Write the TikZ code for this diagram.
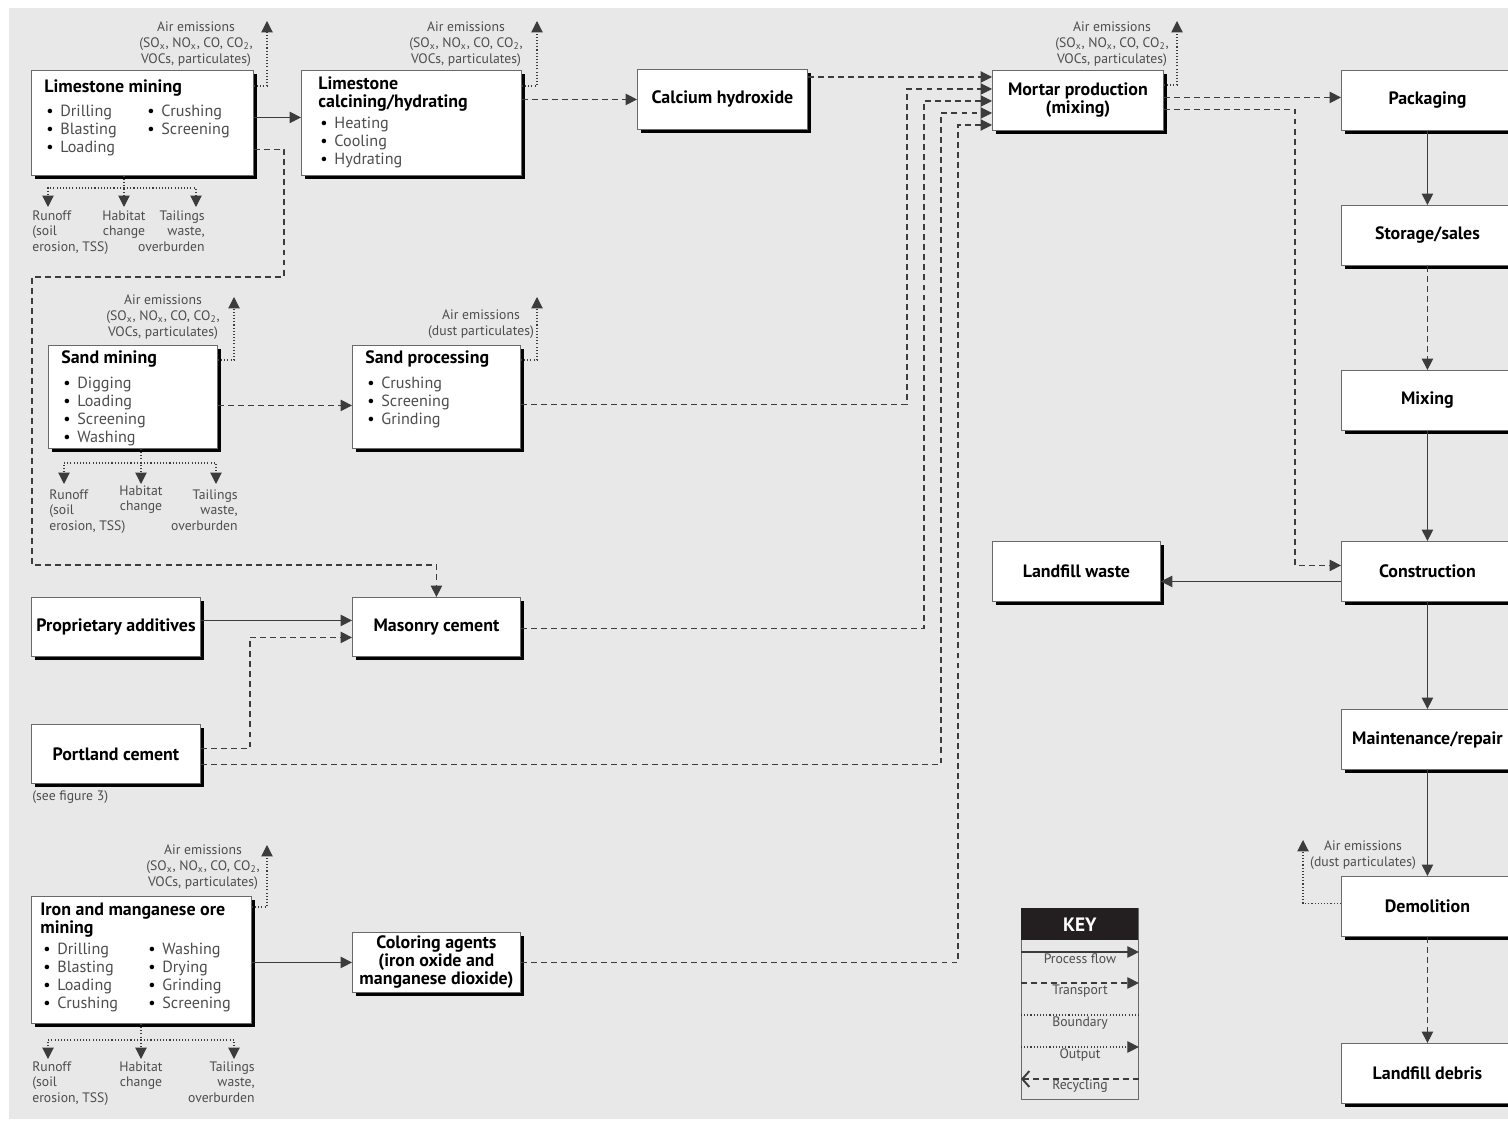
\documentclass[tikz,border=0pt]{standalone}
\usepackage{fontspec}
\setmainfont{PT Sans}
\usepackage{tikz}
\usetikzlibrary{arrows.meta,calc,shadows}

\definecolor{bggray}{HTML}{E8E8E8}
\definecolor{boxline}{HTML}{6A6A6A}
\definecolor{txtgray}{HTML}{4D4D4D}
\definecolor{linegray}{HTML}{3C3C3C}
\definecolor{keydark}{HTML}{231F20}

\newcommand{\itm}[1]{\makebox[8pt][l]{\textcolor{black}{\textbullet}}#1}
\newcommand{\airtxt}{Air emissions\\(SO\textsubscript{x}, NO\textsubscript{x}, CO, CO\textsubscript{2},\\VOCs, particulates)}

\begin{document}
\begin{tikzpicture}[x=0.02cm, y=-0.02cm,
  box/.style={draw=boxline, line width=0.5pt, fill=white, inner sep=0pt, anchor=north west,
    drop shadow={shadow xshift=2.3pt, shadow yshift=-2.3pt, fill=black, opacity=1}},
  wh/.style 2 args={minimum width=#1*0.02cm, minimum height=#2*0.02cm},
  lbl/.style={font=\bfseries\fontsize{10.2}{10.2}\selectfont, align=center},
  ttl/.style={font=\bfseries\fontsize{10.2}{10.2}\selectfont, align=left, inner sep=0pt},
  item/.style={font=\fontsize{9.2}{10.2}\selectfont, text=txtgray, anchor=base west, inner sep=0pt},
  note/.style={font=\fontsize{7.8}{9}\selectfont, text=txtgray, inner sep=0pt},
  arr/.style={-{Triangle[length=6.5pt, width=6.5pt]}},
  flow/.style={arr, draw=linegray, line width=0.6pt},
  trans/.style={arr, draw=linegray, line width=0.6pt, dash pattern=on 3.4pt off 2.3pt},
  outp/.style={arr, draw=linegray, line width=0.6pt, dash pattern=on 0.6pt off 1.2pt},
  bound/.style={draw=linegray, line width=0.6pt, dash pattern=on 0.6pt off 1.2pt}]

\useasboundingbox (0,0) rectangle (1508,1121);
\fill[bggray] (9,8) rectangle (1508,1119);

% limestone mining
\node[box, wh={222}{105}] (limemine) at (31,70) {};
\node[ttl, anchor=base west] (limemine-t) at (44,93) {Limestone mining};
\foreach \t [count=\i] in {Drilling,Blasting,Loading}
  \node[item] (limemine-a\i) at (46,{99+18*\i}) {\itm{\t}};
\foreach \t [count=\i] in {Crushing,Screening}
  \node[item] (limemine-b\i) at (147,{99+18*\i}) {\itm{\t}};
\node[note, align=center] (limemine-air) at (196,44) {\airtxt};
\coordinate (limemine-up) at (267,21);
\coordinate (limemine-hub) at (124,188);
\coordinate (limemine-o1) at (48,207);
\coordinate (limemine-o2) at (124,207);
\coordinate (limemine-o3) at (196,207);
\node[note, align=left, anchor=north west] (limemine-run) at (32,210) {Runoff\\(soil\\erosion, TSS)};
\node[note, align=center, anchor=north] (limemine-hab) at (124,210) {Habitat\\change};
\node[note, align=right, anchor=north east] (limemine-tail) at (205,210) {Tailings\\waste,\\overburden};

% limestone calcining
\node[box, wh={220}{105}] (limecalc) at (301,70) {};
\node[ttl, anchor=north west] (limecalc-t) at (318,76) {Limestone\\calcining/hydrating};
\foreach \t [count=\i] in {Heating,Cooling,Hydrating}
  \node[item] (limecalc-a\i) at (320,{111+18*\i}) {\itm{\t}};
\node[note, align=center] (limecalc-air) at (466,44) {\airtxt};
\coordinate (limecalc-up) at (537,21);

% calcium hydroxide and mortar
\node[box, wh={170}{60}, lbl] (calhyd) at (637,69) {Calcium hydroxide};
\node[box, wh={171}{60}, lbl] (mortar) at (992,70) {Mortar production\\(mixing)};
\node[note, align=center] (mortar-air) at (1112,44) {\airtxt};
\coordinate (mortar-up) at (1177,21);

% sand
\node[box, wh={169}{103}] (sandmine) at (48,345) {};
\node[ttl, anchor=base west] (sandmine-t) at (61,364) {Sand mining};
\foreach \t [count=\i] in {Digging,Loading,Screening,Washing}
  \node[item] (sandmine-a\i) at (63,{371+18*\i}) {\itm{\t}};
\node[note, align=center] (sandmine-air) at (163,317) {\airtxt};
\coordinate (sandmine-up) at (234,297);
\coordinate (sandmine-hub) at (141,463);
\coordinate (sandmine-o1) at (64,484);
\coordinate (sandmine-o2) at (141,484);
\coordinate (sandmine-o3) at (216,484);
\node[note, align=left, anchor=north west] (sandmine-run) at (49,489) {Runoff\\(soil\\erosion, TSS)};
\node[note, align=center, anchor=north] (sandmine-hab) at (141,485) {Habitat\\change};
\node[note, align=right, anchor=north east] (sandmine-tail) at (238,489) {Tailings\\waste,\\overburden};

\node[box, wh={168}{103}] (sandproc) at (352,345) {};
\node[ttl, anchor=base west] (sandproc-t) at (365,364) {Sand processing};
\foreach \t [count=\i] in {Crushing,Screening,Grinding}
  \node[item] (sandproc-a\i) at (367,{371+18*\i}) {\itm{\t}};
\node[note, align=center] (sandproc-air) at (481,324) {Air emissions\\(dust particulates)};
\coordinate (sandproc-up) at (537,297);

% cements
\node[box, wh={169}{59}, lbl] (propadd) at (31,597) {Proprietary additives};
\node[box, wh={168}{59}, lbl] (masonry) at (352,597) {Masonry cement};
\node[box, wh={169}{59}, lbl] (portland) at (31,724) {Portland cement};
\node[note, anchor=north west] (portland-see) at (32,790) {(see figure 3)};

% iron and manganese
\node[box, wh={220}{127}] (ironmine) at (31,896) {};
\node[ttl, anchor=north west] (ironmine-t) at (40,903) {Iron and manganese ore\\mining};
\foreach \t [count=\i] in {Drilling,Blasting,Loading,Crushing}
  \node[item] (ironmine-a\i) at (43,{936+18*\i}) {\itm{\t}};
\foreach \t [count=\i] in {Washing,Drying,Grinding,Screening}
  \node[item] (ironmine-b\i) at (148,{936+18*\i}) {\itm{\t}};
\node[note, align=center] (ironmine-air) at (203,867) {\airtxt};
\coordinate (ironmine-up) at (267,845);
\coordinate (ironmine-hub) at (141,1040);
\coordinate (ironmine-o1) at (48,1059);
\coordinate (ironmine-o2) at (141,1059);
\coordinate (ironmine-o3) at (234,1059);
\node[note, align=left, anchor=north west] (ironmine-run) at (32,1061) {Runoff\\(soil\\erosion, TSS)};
\node[note, align=center, anchor=north] (ironmine-hab) at (141,1061) {Habitat\\change};
\node[note, align=right, anchor=north east] (ironmine-tail) at (255,1061) {Tailings\\waste,\\overburden};
\node[box, wh={168}{60}, lbl] (colour) at (352,932) {Coloring agents\\(iron oxide and\\manganese dioxide)};

% life cycle column
\node[box, wh={172}{60}, lbl] (pack) at (1341,70) {Packaging};
\node[box, wh={172}{60}, lbl] (store) at (1341,205) {Storage/sales};
\node[box, wh={172}{60}, lbl] (mixg) at (1341,370) {Mixing};
\node[box, wh={172}{60}, lbl] (constr) at (1341,541) {Construction};
\node[box, wh={172}{60}, lbl] (maint) at (1341,709) {Maintenance/repair};
\node[box, wh={172}{60}, lbl] (demol) at (1341,876) {Demolition};
\node[box, wh={172}{60}, lbl] (ldebris) at (1341,1043) {Landfill debris};
\node[box, wh={168}{60}, lbl] (lwaste) at (992,541) {Landfill waste};
\node[note, align=center] (demol-air) at (1363,855) {Air emissions\\(dust particulates)};
\coordinate (demol-up) at (1303,840);

% key
\node[draw=boxline, line width=0.5pt, wh={117}{191}, anchor=north west, inner sep=0pt] (key) at (1021,908) {};
\node[fill=keydark, wh={117}{32}, anchor=north west, inner sep=0pt, text=white,
  font=\bfseries\fontsize{11}{12}\selectfont] (key-head) at (1021,908) {KEY};
\node[note] (key-flow) at (1080,959) {Process flow};
\node[note] (key-trans) at (1080,991) {Transport};
\node[note] (key-bound) at (1080,1023) {Boundary};
\node[note] (key-outp) at (1080,1055) {Output};
\node[note] (key-recyc) at (1080,1086) {Recycling};

% emissions and wastes
\draw[outp] ($(limemine.north east)+(0,16)$) -| (limemine-up);
\draw[outp] ($(limecalc.north east)+(0,16)$) -| (limecalc-up);
\draw[outp] ($(mortar.north east)+(0,15)$) -| (mortar-up);
\draw[outp] ($(sandmine.north east)+(0,15)$) -| (sandmine-up);
\draw[outp] ($(sandproc.north east)+(0,15)$) -| (sandproc-up);
\draw[outp] ($(ironmine.north east)+(0,11)$) -| (ironmine-up);
\draw[outp] ($(demol.west)+(0,-3)$) -| (demol-up);
\draw[outp] (limemine.south -| limemine-hub) -- (limemine-o2);
\draw[outp] (limemine-hub) -| (limemine-o1);
\draw[outp] (limemine-hub) -| (limemine-o3);
\draw[outp] (sandmine.south -| sandmine-hub) -- (sandmine-o2);
\draw[outp] (sandmine-hub) -| (sandmine-o1);
\draw[outp] (sandmine-hub) -| (sandmine-o3);
\draw[outp] (ironmine.south -| ironmine-hub) -- (ironmine-o2);
\draw[outp] (ironmine-hub) -| (ironmine-o1);
\draw[outp] (ironmine-hub) -| (ironmine-o3);

% process flow
\draw[flow] ($(limemine.east)+(0,-5.5)$) -- ($(limecalc.west)+(0,-5.5)$);
\draw[flow] ($(propadd.east)+(0,-6.5)$) -- ($(masonry.west)+(0,-6.5)$);
\draw[flow] (ironmine.east |- colour.west) -- (colour.west);
\draw[flow] (pack.south) -- (store.north);
\draw[flow] (mixg.south) -- (constr.north);
\draw[flow] (constr.south) -- (maint.north);
\draw[flow] (maint.south) -- (demol.north);
\draw[flow] ($(constr.west)+(0,10)$) -- ($(lwaste.east)+(0,10)$);

% transport
\draw[trans] ($(limemine.east)+(0,26.5)$) -| (284,277) -| (32,565) -| (masonry.north);
\draw[trans] (limecalc.east |- calhyd.west) -- (calhyd.west);
\draw[trans] ($(calhyd.north east)+(0,8)$) -- ($(mortar.north west)+(0,7)$);
\draw[trans] ($(sandmine.east)+(0,8.5)$) -- ($(sandproc.west)+(0,8.5)$);
\draw[trans] ($(sandproc.east)+(0,7.5)$) -| ($(mortar.north west)+(-85,19)$) -- ($(mortar.north west)+(0,19)$);
\draw[trans] ($(masonry.east)+(0,1.5)$) -| ($(mortar.north west)+(-68,31)$) -- ($(mortar.north west)+(0,31)$);
\draw[trans] ($(portland.east)+(0,-5.5)$) -| ($(masonry.west)+(-102,10.5)$) -- ($(masonry.west)+(0,10.5)$);
\draw[trans] ($(portland.east)+(0,10.5)$) -| ($(mortar.north west)+(-51,43)$) -- ($(mortar.north west)+(0,43)$);
\draw[trans] (colour.east) -| ($(mortar.north west)+(-34,55)$) -- ($(mortar.north west)+(0,55)$);
\draw[trans] ($(mortar.east)+(0,-3)$) -- ($(pack.west)+(0,-3)$);
\draw[trans] ($(mortar.east)+(0,9)$) -| ($(constr.west)+(-46,-6)$) -- ($(constr.west)+(0,-6)$);
\draw[trans] (store.south) -- (mixg.north);
\draw[trans] (demol.south) -- (ldebris.north);

% key lines
\draw[flow] ($(key.north west)+(0,44)$) -- ($(key.north east)+(0,44)$);
\draw[trans] ($(key.north west)+(0,75)$) -- ($(key.north east)+(0,75)$);
\draw[bound] ($(key.north west)+(0,107)$) -- ($(key.north east)+(0,107)$);
\draw[outp] ($(key.north west)+(0,139)$) -- ($(key.north east)+(0,139)$);
\draw[trans, {Straight Barb[length=4pt, width=9pt, line width=1.1pt]}-] ($(key.north west)+(0,171)$) -- ($(key.north east)+(0,171)$);
\end{tikzpicture}
\end{document}
